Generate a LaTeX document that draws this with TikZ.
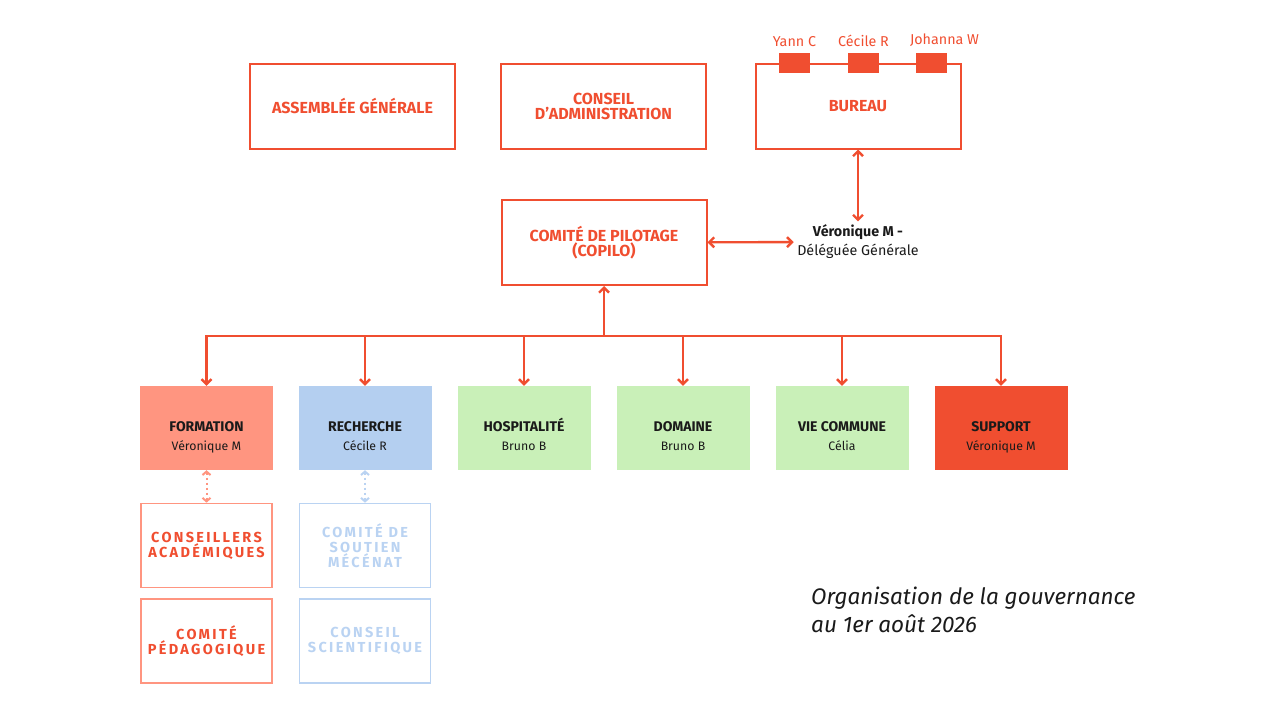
\documentclass[tikz,border=0pt]{standalone}
\usepackage{fontspec}
\setmainfont{Fira Sans}
\usetikzlibrary{arrows.meta,positioning}
\definecolor{rouge}{HTML}{F04E30}
\definecolor{saumon}{HTML}{FF9580}
\definecolor{bleu}{HTML}{B4CFF0}
\definecolor{bleuclair}{HTML}{BAD3F2}
\definecolor{vert}{HTML}{C9F0B8}
\definecolor{encre}{HTML}{1A1A1A}
\newcommand\intitule[1]{{\bfseries\fontsize{14}{19}\selectfont #1}}
\begin{document}
\begin{tikzpicture}[x=1pt,y=-1pt,
		instance/.style={draw=rouge,line width=2pt,minimum width=205pt,minimum height=85pt,
			inner sep=0pt,align=center,text=rouge,font=\bfseries\fontsize{16}{15}\selectfont},
		pole/.style={minimum width=133pt,minimum height=84pt,inner sep=0pt},
		etiquette/.style={align=center,text=encre,yshift=-18.5pt,text height=11pt,text depth=4pt,
			font=\fontsize{12.3}{19}\selectfont},
		comite/.style={draw=#1,line width=1.6pt,minimum width=131pt,minimum height=84pt,
			inner sep=0pt,align=center,font=\bfseries\fontsize{14.5}{15}\selectfont\addfontfeatures{LetterSpace=16}},
		membre/.style={fill=rouge,minimum width=31pt,minimum height=20pt,inner sep=0pt},
		nom/.style={text=rouge,font=\fontsize{14.3}{15}\selectfont},
		lien/.style={draw=rouge,line width=2.4pt},
		pointille/.style={draw=#1,line width=2pt,dash pattern=on 2pt off 3pt,
			{Straight Barb[length=3.5pt,width=8pt]}-{Straight Barb[length=3.5pt,width=8pt]}},
		>={Straight Barb[length=5pt,width=10pt]}]
	\useasboundingbox (0,0) rectangle (1280,720);
	\begin{scope}
		\node[instance] (ag) at (352.5,106) {ASSEMBLÉE GÉNÉRALE};
		\node[instance] (ca) at (603.5,106) {CONSEIL\\D’ADMINISTRATION};
		\node[instance] (bureau) at (858,106) {BUREAU};
		\node[membre] (yann) at (794.5,63) {};
		\node[membre] (cecile) at (863.5,63) {};
		\node[membre] (johanna) at (931.5,63) {};
		\node[nom, above=3pt of yann] {Yann C};
		\node[nom, above=3pt of cecile] {Cécile R};
		\node[nom, above=3pt of johanna, xshift=13pt] {Johanna W};
	\end{scope}
	\begin{scope}
		\node[instance] (copilo) at (604,242.5) {COMITÉ DE PILOTAGE\\(COPILO)};
		\node[align=center,text=encre,font=\fontsize{14.3}{19}\selectfont] (dg) at (858,242)
			{\textbf{Véronique M -}\\Déléguée Générale};
		\draw[lien,<->] (bureau) -- (dg);
		\draw[lien,<->] (copilo) -- (dg);
	\end{scope}
	\begin{scope}
		\node[pole,fill=saumon,label={[etiquette]center:{\intitule{FORMATION}\\Véronique M}}] (formation) at (206.5,428) {};
		\node[pole,fill=bleu,label={[etiquette]center:{\intitule{RECHERCHE}\\Cécile R}}] (recherche) at (365,428) {};
		\node[pole,fill=vert,label={[etiquette]center:{\intitule{HOSPITALITÉ}\\Bruno B}}] (hospitalite) at (524,428) {};
		\node[pole,fill=vert,label={[etiquette]center:{\intitule{DOMAINE}\\Bruno B}}] (domaine) at (683,428) {};
		\node[pole,fill=vert,label={[etiquette]center:{\intitule{VIE COMMUNE}\\Célia}}] (viecommune) at (842,428) {};
		\node[pole,fill=rouge,label={[etiquette]center:{\intitule{SUPPORT}\\Véronique M}}] (support) at (1001,428) {};
		\coordinate (bus) at (604,336);
		\draw[lien,->] (bus) -- (copilo);
		\draw[lien,line cap=rect] (bus -| formation) -- (bus -| support);
		\foreach \p in {formation,recherche,hospitalite,domaine,viecommune,support}
			\draw[lien,->] (bus -| \p) -- (\p);
	\end{scope}
	\begin{scope}
		\node[comite=saumon,text=rouge] (conseillers) at (206.5,545.5) {CONSEILLERS\\ACADÉMIQUES};
		\node[comite=saumon,text=rouge] (pedago) at (206.5,641) {COMITÉ\\PÉDAGOGIQUE};
		\node[comite=bleuclair,text=bleuclair] (soutien) at (365,545.5) {COMITÉ DE\\SOUTIEN\\MÉCÉNAT};
		\node[comite=bleuclair,text=bleuclair] (scientifique) at (365,641) {CONSEIL\\SCIENTIFIQUE};
		\draw[pointille=saumon] (formation) -- (conseillers);
		\draw[pointille=bleuclair] (recherche) -- (soutien);
	\end{scope}
	\node[anchor=north west,align=left,inner sep=0pt,text=encre,
		font=\itshape\fontsize{22.5}{28}\selectfont] (titre) at (811,587)
		{Organisation de la gouvernance\\au 1er août 2026};
\end{tikzpicture}
\end{document}
